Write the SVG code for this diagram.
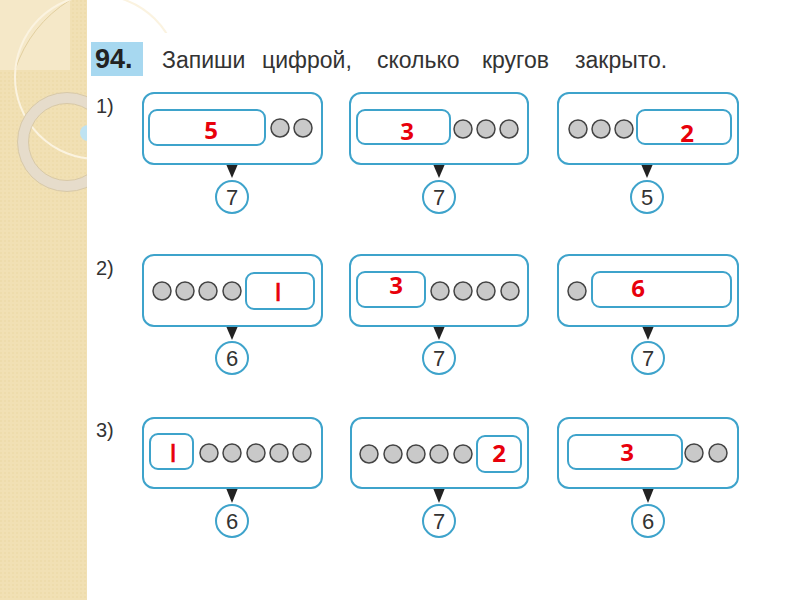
<svg xmlns="http://www.w3.org/2000/svg" width="800" height="600" viewBox="0 0 800 600">
<defs>
<style>
.box{fill:#fff;stroke:#3ea3cb;stroke-width:2}
.slot{fill:#fff;stroke:#3ea3cb;stroke-width:2}
.dot{fill:#c9c9c9;stroke:#444;stroke-width:1.5}
.num{fill:#fff;stroke:#3ea3cb;stroke-width:2}
.numt{font-family:"Liberation Sans",Arial,sans-serif;font-size:22px;fill:#333;text-anchor:middle}
.red{font-family:"Open Sans","Liberation Sans",sans-serif;font-weight:bold;font-size:24px;fill:#e8000b;text-anchor:middle}
.redi{font-family:"Liberation Sans",sans-serif;font-size:26px;fill:#e8000b;text-anchor:middle;stroke:#e8000b;stroke-width:0.6}
.lbl{font-family:"Liberation Sans",Arial,sans-serif;font-size:20px;fill:#333}
.tri{fill:#222}
</style>
<pattern id="tex" width="4" height="4" patternUnits="userSpaceOnUse">
<rect width="4" height="4" fill="#f1e0b4"/>
<rect width="2" height="2" fill="#eedcac"/>
</pattern>
</defs>
<rect width="800" height="600" fill="#fff"/>
<!-- left decorative strip -->
<g id="decor">
<rect x="0" y="0" width="87" height="600" fill="url(#tex)"/>
<rect x="0" y="0" width="70" height="70" fill="#f5e8c8"/>
<path d="M70,0 Q30,25 15,70" fill="none" stroke="#e2cf9f" stroke-width="1"/>
<circle cx="97" cy="77" r="82" fill="none" stroke="#fbf3e0" stroke-width="2"/>
<circle cx="67" cy="142" r="44" fill="none" stroke="#e6dccb" stroke-width="11"/>
<circle cx="67" cy="142" r="49.5" fill="none" stroke="#d8c9a8" stroke-width="1"/>
<circle cx="67" cy="142" r="38.5" fill="none" stroke="#d8c9a8" stroke-width="1"/>
<circle cx="88" cy="133" r="8" fill="#bfe3f2"/>
<rect x="87" y="33" width="713" height="567" fill="#fff"/>
</g>
<!-- header -->
<g id="header">
<rect x="91" y="42" width="52" height="34" fill="#a7d8f0"/>
<text x="95" y="68" font-family="Liberation Sans,Arial,sans-serif" font-weight="bold" font-size="27" fill="#222">94.</text>
<text y="68" font-family="Liberation Sans,Arial,sans-serif" font-size="23" fill="#333"><tspan x="162">Запиши</tspan> <tspan x="262">цифрой,</tspan> <tspan x="377">сколько</tspan> <tspan x="482">кругов</tspan> <tspan x="575">закрыто.</tspan></text>
</g>
<g id="labels">
<text class="lbl" x="96" y="113">1)</text>
<text class="lbl" x="96" y="275">2)</text>
<text class="lbl" x="96" y="437">3)</text>
</g>
<!-- connectors -->
<g id="connectors">
<polygon class="tri" points="226,164 238,164 232,178"/>
<polygon class="tri" points="433,164 445,164 439,178"/>
<polygon class="tri" points="641,164 653,164 647,178"/>
<polygon class="tri" points="226,326 238,326 232,340"/>
<polygon class="tri" points="433,326 445,326 439,340"/>
<polygon class="tri" points="642,326 654,326 648,340"/>
<polygon class="tri" points="226,488 238,488 232,503"/>
<polygon class="tri" points="433,488 445,488 439,503"/>
<polygon class="tri" points="642,488 654,488 648,503"/>
</g>
<!-- row 1 -->
<g id="r1c1">
<rect class="box" x="143" y="93" width="179" height="71" rx="11"/>
<rect class="slot" x="149" y="110" width="116" height="35" rx="8"/>
<text class="red" x="211" y="139">5</text>
<circle class="dot" cx="280" cy="128" r="9"/>
<circle class="dot" cx="303" cy="128" r="9"/>
</g>
<g id="r1c2">
<rect class="box" x="350" y="93" width="178" height="71" rx="11"/>
<rect class="slot" x="357" y="110" width="93" height="34" rx="8"/>
<text class="red" x="407" y="140">3</text>
<circle class="dot" cx="463" cy="129" r="9"/>
<circle class="dot" cx="486" cy="129" r="9"/>
<circle class="dot" cx="509" cy="129" r="9"/>
</g>
<g id="r1c3">
<rect class="box" x="558" y="93" width="180" height="71" rx="11"/>
<circle class="dot" cx="578" cy="129" r="9"/>
<circle class="dot" cx="601" cy="129" r="9"/>
<circle class="dot" cx="624" cy="129" r="9"/>
<rect class="slot" x="637" y="110" width="94" height="34" rx="8"/>
<text class="red" x="687" y="142">2</text>
</g>
<g id="n1c1"><circle class="num" cx="232" cy="197" r="16"/><text class="numt" x="232" y="205">7</text></g>
<g id="n1c2"><circle class="num" cx="439" cy="197" r="16"/><text class="numt" x="439" y="205">7</text></g>
<g id="n1c3"><circle class="num" cx="647" cy="197" r="16"/><text class="numt" x="647" y="205">5</text></g>
<!-- row 2 -->
<g id="r2c1">
<rect class="box" x="143" y="255" width="179" height="71" rx="11"/>
<circle class="dot" cx="162" cy="291" r="9"/>
<circle class="dot" cx="185" cy="291" r="9"/>
<circle class="dot" cx="208" cy="291" r="9"/>
<circle class="dot" cx="232" cy="291" r="9"/>
<rect class="slot" x="246" y="273" width="68" height="36" rx="8"/>
<text class="redi" x="278" y="301">I</text>
</g>
<g id="r2c2">
<rect class="box" x="350" y="255" width="178" height="71" rx="11"/>
<rect class="slot" x="357" y="272" width="68" height="35" rx="8"/>
<text class="red" x="396" y="294">3</text>
<circle class="dot" cx="440" cy="291" r="9"/>
<circle class="dot" cx="463" cy="291" r="9"/>
<circle class="dot" cx="486" cy="291" r="9"/>
<circle class="dot" cx="510" cy="291" r="9"/>
</g>
<g id="r2c3">
<rect class="box" x="558" y="255" width="180" height="71" rx="11"/>
<circle class="dot" cx="577" cy="291" r="9"/>
<rect class="slot" x="592" y="272" width="139" height="35" rx="8"/>
<text class="red" x="638" y="297">6</text>
</g>
<g id="n2c1"><circle class="num" cx="232" cy="358" r="16"/><text class="numt" x="232" y="366">6</text></g>
<g id="n2c2"><circle class="num" cx="439" cy="358" r="16"/><text class="numt" x="439" y="366">7</text></g>
<g id="n2c3"><circle class="num" cx="648" cy="358" r="16"/><text class="numt" x="648" y="366">7</text></g>
<!-- row 3 -->
<g id="r3c1">
<rect class="box" x="143" y="418" width="179" height="70" rx="11"/>
<rect class="slot" x="150" y="434" width="43" height="35" rx="8"/>
<text class="redi" x="173" y="462">I</text>
<circle class="dot" cx="209" cy="453" r="9"/>
<circle class="dot" cx="232" cy="453" r="9"/>
<circle class="dot" cx="256" cy="453" r="9"/>
<circle class="dot" cx="279" cy="453" r="9"/>
<circle class="dot" cx="302" cy="453" r="9"/>
</g>
<g id="r3c2">
<rect class="box" x="351" y="418" width="177" height="70" rx="11"/>
<circle class="dot" cx="369" cy="454" r="9"/>
<circle class="dot" cx="393" cy="454" r="9"/>
<circle class="dot" cx="416" cy="454" r="9"/>
<circle class="dot" cx="439" cy="454" r="9"/>
<circle class="dot" cx="463" cy="454" r="9"/>
<rect class="slot" x="477" y="436" width="44" height="36" rx="8"/>
<text class="red" x="499" y="462">2</text>
</g>
<g id="r3c3">
<rect class="box" x="558" y="418" width="180" height="70" rx="11"/>
<rect class="slot" x="568" y="435" width="114" height="34" rx="8"/>
<text class="red" x="627" y="461">3</text>
<circle class="dot" cx="694" cy="453" r="9"/>
<circle class="dot" cx="718" cy="453" r="9"/>
</g>
<g id="n3c1"><circle class="num" cx="232" cy="521" r="16"/><text class="numt" x="232" y="529">6</text></g>
<g id="n3c2"><circle class="num" cx="439" cy="521" r="16"/><text class="numt" x="439" y="529">7</text></g>
<g id="n3c3"><circle class="num" cx="648" cy="521" r="16"/><text class="numt" x="648" y="529">6</text></g>
</svg>
